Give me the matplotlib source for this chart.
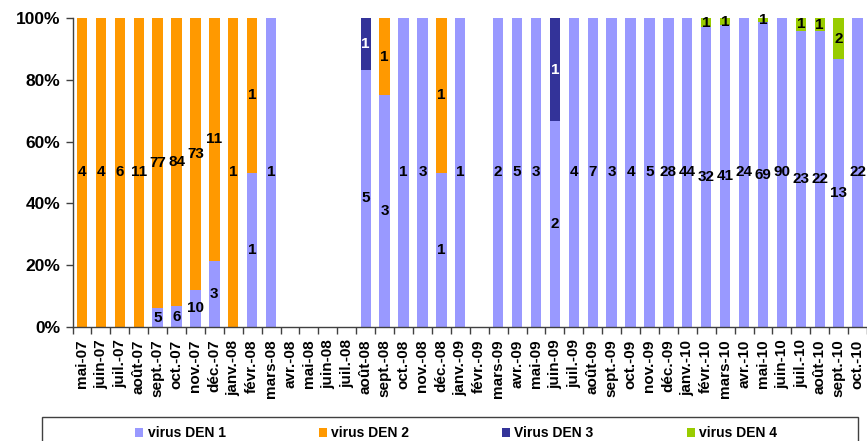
import matplotlib
matplotlib.use("Agg")
import matplotlib.pyplot as plt
from matplotlib.patches import Rectangle
import numpy as np

plt.rcParams['font.family'] = ['Liberation Sans', 'DejaVu Sans']

months = ["mai-07", "juin-07", "juil.-07", "août-07", "sept.-07", "oct.-07", "nov.-07", "déc.-07",
          "janv.-08", "févr.-08", "mars-08", "avr.-08", "mai-08", "juin-08", "juil.-08", "août-08",
          "sept.-08", "oct.-08", "nov.-08", "déc.-08", "janv.-09", "févr.-09", "mars-09", "avr.-09",
          "mai-09", "juin-09", "juil.-09", "août-09", "sept.-09", "oct.-09", "nov.-09", "déc.-09",
          "janv.-10", "févr.-10", "mars-10", "avr.-10", "mai-10", "juin-10", "juil.-10", "août-10",
          "sept.-10", "oct.-10"]

den1 = [0, 0, 0, 0, 5, 6, 10, 3, 0, 1, 1, 0, 0, 0, 0, 5, 3, 1, 3, 1, 1, 0, 2, 5, 3, 2, 4, 7, 3, 4, 5,
        28, 44, 32, 41, 24, 69, 90, 23, 22, 13, 22]
den2 = [4, 4, 6, 11, 77, 84, 73, 11, 1, 1, 0, 0, 0, 0, 0, 0, 1, 0, 0, 1, 0, 0, 0, 0, 0, 0, 0, 0, 0, 0,
        0, 0, 0, 0, 0, 0, 0, 0, 0, 0, 0, 0]
den3 = [0, 0, 0, 0, 0, 0, 0, 0, 0, 0, 0, 0, 0, 0, 0, 1, 0, 0, 0, 0, 0, 0, 0, 0, 0, 1, 0, 0, 0, 0,
        0, 0, 0, 0, 0, 0, 0, 0, 0, 0, 0, 0]
den4 = [0, 0, 0, 0, 0, 0, 0, 0, 0, 0, 0, 0, 0, 0, 0, 0, 0, 0, 0, 0, 0, 0, 0, 0, 0, 0, 0, 0, 0, 0,
        0, 0, 0, 1, 1, 0, 1, 0, 1, 1, 2, 0]

series_names = ["virus DEN 1", "virus DEN 2", "Virus DEN 3", "virus DEN 4"]
series_colors = ["#9999FF", "#FF9900", "#333399", "#99CC00"]
label_colors = ["black", "black", "white", "black"]

W, H = 867, 441
fig = plt.figure(figsize=(W / 100, H / 100), dpi=100)
ax = fig.add_axes([72.5 / W, (H - 327) / H, 1 - 72.5 / W, (327 - 18) / H])

data = np.array([den1, den2, den3, den4], dtype=float)
tot = data.sum(axis=0)
safe = np.where(tot > 0, tot, 1)
pct = data / safe * 100
x = np.arange(len(months))
bottom = np.zeros(len(months))
handles = []
for k in range(4):
    b = ax.bar(x, pct[k], 0.55, bottom=bottom, color=series_colors[k], edgecolor='none', zorder=2)
    handles.append(b)
    for i in range(len(months)):
        if data[k, i] > 0:
            ax.text(x[i], bottom[i] + pct[k, i] / 2, f"{int(data[k, i])}", ha='center', va='center',
                    fontsize=11, fontweight='bold', color=label_colors[k], zorder=3)
    bottom = bottom + pct[k]

ax.set_xlim(-0.5, 41.3)
ax.set_ylim(0, 100)
ax.set_yticks([0, 20, 40, 60, 80, 100])
ax.set_yticklabels([f"{v}%" for v in [0, 20, 40, 60, 80, 100]], fontsize=12.5, fontweight='bold')
ax.set_xticks(x)
ax.set_xticklabels(months, rotation=90, fontsize=11, fontweight='bold')
ax.set_xticks(np.arange(-0.5, len(months), 1), minor=True)
ax.tick_params(axis='x', which='major', length=0, pad=9)
ax.tick_params(axis='x', which='minor', length=5, color='#404040', width=1)
ax.tick_params(axis='y', length=5, color='#404040', width=1, pad=4)
for s in ['top', 'right']:
    ax.spines[s].set_visible(False)
for s in ['left', 'bottom']:
    ax.spines[s].set_color('#404040')
    ax.spines[s].set_linewidth(1)

box = Rectangle((42 / W, -0.05), (858 - 42) / W, 0.05 + (H - 417) / H, transform=fig.transFigure,
                fill=False, edgecolor='#404040', linewidth=1, clip_on=False)
fig.add_artist(box)

fig.legend(handles, series_names, ncol=4, loc='center left', bbox_to_anchor=(135 / W, (H - 433) / H),
           frameon=False, prop={'size': 10, 'weight': 'bold'}, handlelength=0.6, handleheight=0.6,
           handletextpad=0.3, columnspacing=6.7, borderpad=0, borderaxespad=0)

fig.savefig("out.png", dpi=100)
